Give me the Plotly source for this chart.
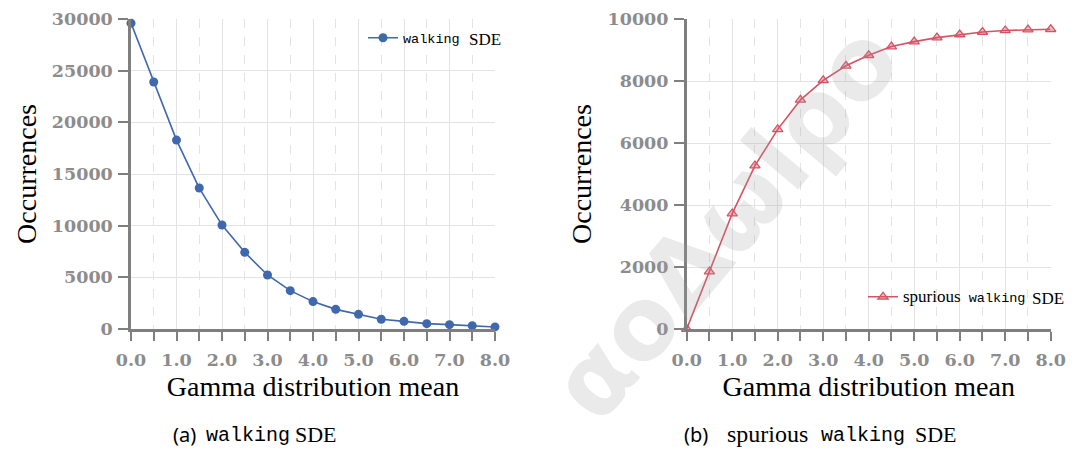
import plotly.graph_objects as go

x_vals = [0.0, 0.5, 1.0, 1.5, 2.0, 2.5, 3.0, 3.5, 4.0, 4.5, 5.0, 5.5, 6.0, 6.5, 7.0, 7.5, 8.0]
walking_sde = [29600, 23900, 18280, 13640, 10060, 7420, 5230, 3710, 2650, 1900,
               1420, 940, 740, 520, 420, 320, 200]
spurious_walking_sde = [0, 1850, 3720, 5270, 6440, 7390, 8020, 8490, 8830, 9110,
                        9270, 9400, 9500, 9580, 9630, 9660, 9670]
x_tickvals = [0, 1, 2, 3, 4, 5, 6, 7, 8]
x_ticktext = ["0.0", "1.0", "2.0", "3.0", "4.0", "5.0", "6.0", "7.0", "8.0"]
left_yticks = [0, 5000, 10000, 15000, 20000, 25000, 30000]
right_yticks = [0, 2000, 4000, 6000, 8000, 10000]
watermark_text = "αοΔωlρο"

BLUE = "#3f68ad"
RED = "#d65365"
AXIS = "#7f7f7f"
GRID = "#e3e3e3"
TICKFONT = dict(family="DejaVu Serif", size=17.5, color="#8c8c8c", weight="bold")
SERIF = "Liberation Serif, Times New Roman, serif"
MONO = "Liberation Mono, Courier New, monospace"
TITLEFONT = dict(family=SERIF, size=28, color="#000000")

fig = go.Figure()

fig.add_trace(go.Scatter(
    x=x_vals, y=walking_sde, mode="lines+markers",
    name="walking",
    line=dict(color=BLUE, width=1.6),
    marker=dict(symbol="circle", size=9, color=BLUE),
    cliponaxis=False, xaxis="x", yaxis="y", legend="legend",
))
fig.add_trace(go.Scatter(
    x=x_vals, y=spurious_walking_sde, mode="lines+markers",
    name="<span style=\"font-family:'Liberation Serif', serif;font-size:17px\">spurious</span> walking",
    line=dict(color=RED, width=1.6),
    marker=dict(symbol="triangle-up", size=9, color="rgba(214,83,101,0.35)",
                line=dict(color=RED, width=1.3)),
    cliponaxis=False, xaxis="x2", yaxis="y2", legend="legend2",
))

OFF = 8  # page body margin
W, H = 1090 - OFF, 449 - OFF
def px_x(p):
    return (p - OFF) / W
def px_y(p):
    return 1 - (p - OFF) / H

ydom = [px_y(329), px_y(19)]

def xaxis_cfg(d0, d1, anchor):
    return dict(
        domain=[px_x(d0), px_x(d1)], anchor=anchor, range=[0, 8], automargin=False,
        tickvals=x_tickvals, ticktext=x_ticktext, tickfont=TICKFONT,
        showline=True, linecolor=AXIS, linewidth=2.5,
        ticks="outside", ticklen=9, tickwidth=2, tickcolor=AXIS,
        showgrid=True, gridcolor=GRID, gridwidth=1, zeroline=False,
        ticklabelstandoff=4,
        minor=dict(dtick=0.5, tick0=0, showgrid=True, gridcolor=GRID, griddash="dash",
                   gridwidth=1, ticks="outside", ticklen=9, tickwidth=2, tickcolor=AXIS),
        title=dict(text="Gamma distribution mean", font=TITLEFONT, standoff=8),
    )

def yaxis_cfg(rng, tv, anchor):
    return dict(
        domain=ydom, anchor=anchor, range=rng, automargin=False,
        tickvals=tv, ticktext=[str(v) for v in tv], tickfont=TICKFONT,
        showline=True, linecolor=AXIS, linewidth=2.5,
        ticks="outside", ticklen=10, tickwidth=2, tickcolor=AXIS,
        showgrid=True, gridcolor=GRID, gridwidth=1, zeroline=False,
        ticklabelstandoff=2,
        title=dict(text="Occurrences", font=TITLEFONT, standoff=8),
    )

LEGFONT = dict(family=MONO, size=13.5, color="#000")
fig.update_layout(
    width=W, height=H,
    margin=dict(l=0, r=0, t=0, b=0, autoexpand=False),
    paper_bgcolor="white", plot_bgcolor="white",
    xaxis=xaxis_cfg(131, 495, "y"),
    yaxis=yaxis_cfg([0, 30000], left_yticks, "x"),
    xaxis2=xaxis_cfg(686.7, 1050.7, "y2"),
    yaxis2=yaxis_cfg([0, 10000], right_yticks, "x2"),
    legend=dict(x=px_x(363), y=px_y(38), xanchor="left", yanchor="middle",
                bgcolor="rgba(0,0,0,0)", borderwidth=0, font=LEGFONT),
    legend2=dict(x=px_x(863), y=px_y(297), xanchor="left", yanchor="middle",
                 bgcolor="rgba(0,0,0,0)", borderwidth=0, font=LEGFONT),
    showlegend=True,
)

# faint watermark
fig.add_annotation(
    text=watermark_text, x=px_x(725), y=px_y(222), xref="paper", yref="paper",
    showarrow=False, textangle=-50, xanchor="center", yanchor="middle",
    font=dict(family="DejaVu Sans", size=100, weight="bold", color="rgba(160,160,160,0.22)"))

def txt(text, xpx, ypx, family, size, anchor="left"):
    fig.add_annotation(text=text, x=px_x(xpx), y=px_y(ypx), xref="paper", yref="paper",
                       showarrow=False, xanchor=anchor, yanchor="middle",
                       font=dict(family=family, size=size, color="#000"))

# legend suffixes
txt("SDE", 467, 39, SERIF, 17)
txt("SDE", 1030, 298, SERIF, 17)

# captions
txt("(a)", 171, 434, "Noto Sans", 20)
txt("walking", 204, 435, MONO, 20)
txt("SDE", 339, 434, SERIF, 22, anchor="right")
txt("(b)", 682, 434, "Noto Sans", 20)
txt("spurious", 725, 434, SERIF, 24)
txt("walking", 819, 435, MONO, 20)
txt("SDE", 959, 434, SERIF, 22, anchor="right")

fig.write_html("out.html")
